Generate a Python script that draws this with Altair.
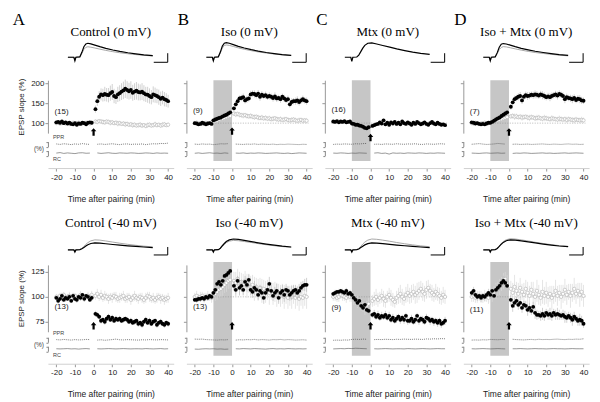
import altair as alt
import pandas as pd

# ---------------- data ----------------
T = list(range(-20, 0)) + list(range(1, 41))          # minutes (black / gray points)
TP = list(range(-20, 0, 2)) + list(range(2, 41, 2))    # minutes (PPR / RC traces)
DRUG_WINDOW = [-10, 0]

TITLES = ["Control (0 mV)", "Iso (0 mV)", "Mtx (0 mV)", "Iso + Mtx (0 mV)",
          "Control (-40 mV)", "Iso (-40 mV)", "Mtx (-40 mV)", "Iso + Mtx (-40 mV)"]
LETTERS = ["A", "B", "C", "D"]
N_LABELS = ["(15)", "(9)", "(16)", "(7)", "(13)", "(13)", "(9)", "(11)"]
N_Y = [127, 130, 132, 128, 90, 90, 89, 87]
ARROW_Y = [78, 80, 64, 78, 71, 71, 71, 71]

CTL0_BLACK = [102,103,101,104,100,102,99,101,98,97,100,96,99,98,101,100,97,101,102,101,
              135,155,166,172,170,173,171,170,175,178,168,165,172,175,179,182,186,183,180,183,
              176,179,181,178,177,179,175,172,171,168,165,172,170,168,165,161,164,160,158,155]
CTL0_BERR = [4,3,5,4,3,4,4,3,5,4,3,4,4,3,4,5,3,4,4,3,
             9,12,14,15,16,18,17,18,19,20,18,17,19,20,21,22,23,22,21,22,
             20,21,22,21,20,21,20,19,20,19,18,20,19,18,19,18,17,18,17,16]
CTL0_GRAY = [100,101,99,100,101,99,100,98,100,101,99,100,101,100,99,100,101,100,99,101,
             104,103,105,104,103,102,104,103,101,102,100,101,99,100,98,99,97,98,96,97,
             95,96,94,95,96,94,95,93,95,96,94,95,97,95,96,94,96,97,95,96]
CTL0_GERR = [3,4,3,3,4,3,4,3,3,4,3,4,3,3,4,3,4,3,3,4,
             5,6,5,6,7,6,5,6,7,6,5,6,7,6,5,6,7,6,5,6,
             7,6,5,6,7,6,5,6,7,6,5,6,7,6,5,6,7,6,5,6]
CTL0_PPR = [101,98,102,100,97,101,99,103,100,98, 99,101,98,100,102,99,97,100,101,98,100,99,101,97,100,102,101,104,103,106]
CTL0_RC = [100,103,98,101,99,97,101,102,99,100, 101,98,100,102,99,98,101,100,99,101,100,98,99,101,100,98,101,99,100,99]

ISO0_BLACK = [100,99,97,98,101,99,97,99,100,98,107,109,111,113,114,117,119,121,124,127,
              137,147,155,162,163,165,157,160,162,172,174,173,170,174,166,171,168,170,166,168,
              166,163,167,162,163,160,166,162,158,160,147,153,155,155,157,153,157,160,157,155]
ISO0_BERR = [3,4,3,4,3,4,3,4,3,4,4,5,4,5,4,5,5,4,5,5,
             6,7,8,7,8,9,8,9,8,9,8,9,8,9,10,9,8,9,8,9,
             8,9,10,9,8,9,8,9,8,9,8,9,8,9,10,9,8,9,8,9]
ISO0_GRAY = [100,101,99,100,98,100,101,99,100,102,103,105,106,108,110,111,113,115,117,118,
             124,122,123,121,120,119,120,118,117,118,116,115,116,114,113,114,112,113,111,112,
             110,111,112,110,109,110,108,109,110,108,107,108,109,107,106,107,108,106,107,106]
ISO0_GERR = [4,5,4,5,4,5,4,5,4,5,5,5,6,5,6,5,6,5,6,5,
             6,7,6,7,6,7,6,7,6,7,6,7,6,7,6,7,6,7,6,7,
             6,7,6,7,6,7,6,7,6,7,6,7,6,7,6,7,6,7,6,7]
ISO0_PPR = [100,98,101,99,100,97,99,102,101,103, 100,99,98,100,99,101,98,100,99,98,100,97,99,98,100,99,98,97,99,98]
ISO0_RC = [99,101,98,100,102,99,100,98,101,99, 100,99,101,98,100,99,101,100,98,99,100,101,99,98,100,97,99,101,100,99]

MTX0_BLACK = [104,103,105,102,104,103,105,102,103,104,99,98,96,96,94,93,91,88,87,90,
              93,95,97,98,102,99,107,97,101,96,102,99,103,98,101,97,104,100,98,102,
              99,96,101,98,103,100,97,99,102,98,96,100,103,99,97,101,98,96,97,95]
MTX0_BERR = [3,4,3,4,3,4,3,4,3,4,4,3,4,5,4,3,4,5,4,3,
             4,5,4,3,4,5,4,3,4,5,4,3,4,5,4,3,4,5,4,3,
             4,5,4,3,4,5,4,3,4,5,4,3,4,5,4,3,4,5,4,3]
MTX0_GRAY = []
MTX0_GERR = []
MTX0_PPR = [98,100,99,101,100,99,102,101,103,104, 99,100,98,101,100,99,102,100,99,101,100,102,99,98,101,100,99,101,102,100]
MTX0_RC = [100,99,101,100,98,100,99,101,100,99, 100,102,98,100,94,101,99,100,98,101,100,99,101,100,98,100,99,101,100,99]

IM0_BLACK = [102,101,99,100,98,97,98,97,99,101,101,103,106,109,112,114,118,121,124,127,
             141,152,160,163,166,168,157,166,170,168,169,171,170,172,171,169,172,170,168,165,
             167,165,168,170,172,169,173,171,168,160,165,163,162,160,163,158,161,160,157,156]
IM0_BERR = [3,4,5,4,3,4,5,4,3,4,4,5,4,5,5,6,5,6,5,6,
            7,8,9,8,9,10,9,8,9,10,9,8,9,10,9,8,9,10,9,8,
            9,10,9,8,9,10,9,8,9,10,9,8,9,10,9,8,9,10,9,8]
IM0_GRAY = [100,99,101,100,98,99,100,101,99,100,101,103,104,106,107,109,110,112,113,115,
            117,118,116,117,115,116,114,115,116,114,113,115,114,112,113,114,112,111,113,112,
            111,110,112,111,110,109,111,110,109,110,108,110,109,108,107,109,108,107,108,107]
IM0_GERR = [4,5,4,5,4,5,4,5,4,5,5,6,5,6,5,6,5,6,5,6,
            6,7,8,7,6,7,8,7,6,7,8,7,6,7,8,7,6,7,8,7,
            6,7,8,7,6,7,8,7,6,7,8,7,6,7,8,7,6,7,8,7]
IM0_PPR = [99,101,103,100,98,99,101,104,102,100, 99,100,98,99,100,98,99,100,101,99,98,100,99,98,100,101,99,100,98,99]
IM0_RC = [100,99,98,100,101,99,100,101,99,100, 98,100,99,101,100,98,99,100,101,99,100,98,99,100,101,99,100,101,100,99]

CTL1_BLACK = [99,96,98,101,97,99,98,100,96,101,98,97,100,99,102,98,101,100,97,99,
              83,82,80,76,77,75,78,80,77,79,76,78,77,78,76,77,78,77,75,76,
              74,75,76,73,74,72,75,77,74,76,73,75,76,72,74,75,73,72,74,73]
CTL1_BERR = [2,3,2,3,2,3,2,3,2,3,2,3,2,3,2,3,2,3,2,3,
             3,3,2,3,2,3,2,3,2,3,2,3,2,3,2,3,2,3,2,3,
             2,3,2,3,2,3,2,3,2,3,2,3,2,3,2,3,2,3,2,3]
CTL1_GRAY = [100,99,101,100,102,99,100,101,98,100,101,99,100,102,101,99,100,101,100,102,
             101,103,100,102,99,101,100,98,100,99,101,100,98,99,100,101,98,99,100,97,
             99,101,99,98,100,99,97,99,101,100,98,99,97,99,100,98,99,97,98,99]
CTL1_GERR = [3,4,3,4,3,4,3,4,3,4,3,4,3,4,3,4,3,4,3,4,
             4,5,4,5,4,5,4,5,4,5,4,5,4,5,4,5,4,5,4,5,
             4,5,4,5,4,5,4,5,4,5,4,5,4,5,4,5,4,5,4,5]
CTL1_PPR = [101,99,102,100,98,101,99,100,102,101, 98,100,97,99,101,104,100,99,101,100,99,98,100,99,101,100,99,101,100,99]
CTL1_RC = [100,99,100,101,99,100,98,100,101,99, 100,99,100,101,100,99,100,101,100,99,100,100,99,101,100,99,100,101,99,100]

ISO1_BLACK = [97,97,98,98,99,98,100,99,101,100,104,107,113,115,112,116,121,122,124,126,
              111,107,116,109,111,107,115,112,117,107,105,109,107,102,106,104,99,104,107,113,
              106,101,104,106,99,104,106,102,107,106,102,104,106,107,104,106,109,111,112,112]
ISO1_BERR = [2,3,2,3,2,3,2,3,2,3,3,4,3,4,3,4,3,4,3,4,
             5,6,5,7,6,5,6,7,6,5,6,7,6,5,6,7,6,5,6,7,
             6,5,6,7,6,5,6,7,6,5,6,7,6,5,6,7,6,5,6,7]
ISO1_GRAY = [100,101,99,100,101,99,100,101,100,99,101,103,105,107,108,110,112,114,116,117,
             116,114,118,113,115,112,116,111,113,110,112,108,110,107,109,106,108,105,107,104,
             106,103,105,102,104,101,103,100,102,99,101,100,102,99,101,98,100,99,101,100]
ISO1_GERR = [4,5,4,5,4,5,4,5,4,5,6,7,8,7,8,9,8,9,8,9,
             9,11,10,12,9,11,10,12,9,11,10,12,9,11,10,12,9,11,10,12,
             9,11,10,12,9,11,10,12,9,11,10,12,9,11,10,12,9,11,10,12]
ISO1_PPR = [104,103,104,101,100,99,98,100,99,101, 98,100,99,101,100,102,99,101,100,98,101,100,102,99,101,100,98,99,100,98]
ISO1_RC = [98,97,99,100,99,100,98,99,97,98, 100,99,101,100,99,101,100,99,98,100,101,99,100,99,101,100,99,100,99,100]

MTX1_BLACK = [103,104,105,105,106,105,104,106,103,104,102,99,97,94,96,91,89,92,87,86,
              82,83,80,82,79,81,80,82,79,81,77,79,76,78,80,77,79,77,81,76,
              76,78,75,77,81,76,78,77,75,79,78,76,77,75,76,74,76,73,74,76]
MTX1_BERR = [2,3,2,3,2,3,2,3,2,3,3,4,3,4,3,4,3,4,3,4,
             3,4,3,4,3,4,3,4,3,4,3,4,3,4,3,4,3,4,3,4,
             3,4,3,4,3,4,3,4,3,4,3,4,3,4,3,4,3,4,3,4]
MTX1_GRAY = [100,101,99,100,102,101,100,99,101,100,100,98,97,95,94,92,90,88,91,93,
             96,98,100,97,99,101,98,96,100,102,99,97,95,99,101,103,100,98,102,104,
             101,103,105,102,104,106,108,105,103,107,109,106,104,102,105,103,101,99,102,100]
MTX1_GERR = [4,5,4,5,4,5,4,5,4,5,5,6,5,6,5,6,5,6,5,6,
             6,7,8,7,6,7,8,7,6,7,8,7,6,7,8,9,8,7,8,9,
             8,9,8,9,10,9,8,9,8,9,8,7,8,7,8,7,8,7,8,7]
MTX1_PPR = [97,98,97,99,98,102,103,102,104,103, 101,102,101,103,102,101,103,102,104,103,102,104,103,102,105,104,106,105,107,106]
MTX1_RC = [99,100,101,100,102,101,103,102,101,100, 100,99,100,101,100,99,100,100,99,101,100,99,100,101,100,99,100,101,100,100]

IM1_BLACK = [104,106,102,100,101,99,101,100,102,104,102,106,101,107,109,111,114,116,114,111,
             97,91,94,96,92,94,89,92,91,87,89,86,90,84,82,82,81,83,81,84,
             82,83,81,84,82,83,82,81,82,80,79,81,79,77,80,78,76,77,76,73]
IM1_BERR = [3,4,3,4,3,4,3,4,3,4,4,5,4,5,4,5,4,5,4,5,
            5,6,5,4,5,6,5,4,5,6,5,4,5,6,5,4,5,6,5,4,
            5,6,5,4,5,6,5,4,5,6,5,4,5,6,5,4,5,6,5,4]
IM1_GRAY = [100,101,99,100,101,100,99,101,100,99,101,103,104,106,108,110,113,116,118,114,
            108,104,110,106,103,109,105,102,108,104,101,107,103,100,106,102,99,105,101,104,
            100,103,99,102,106,101,104,100,103,107,102,105,101,104,108,103,106,102,105,101]
IM1_GERR = [5,6,5,6,5,6,5,6,5,6,7,8,7,8,7,8,7,8,7,8,
            8,10,12,9,11,10,8,12,9,11,10,8,12,9,11,10,8,12,9,11,
            10,8,12,9,11,10,8,12,9,11,10,8,12,9,11,10,8,12,9,11]
IM1_PPR = [98,99,98,100,99,102,101,100,102,101, 103,101,100,99,101,102,100,103,101,102,101,103,104,102,101,103,102,104,103,106]
IM1_RC = [100,99,100,101,100,99,100,101,100,99, 100,100,101,100,99,100,101,100,100,99,100,101,100,100,99,100,101,100,100,100]

# example EPSP sweeps (ms, normalised amplitude)
TR_T = [0, 6, 7, 8, 12, 14, 16, 18, 20, 23, 27, 32, 38, 45, 52, 60, 68, 76, 85]
CTL0_TR_BLACK = [0,0,-0.25,0,0.03,0.35,0.75,0.95,1.0,0.96,0.87,0.76,0.64,0.52,0.42,0.32,0.24,0.17,0.11]
CTL0_TR_GRAY = [0,0,-0.25,0,0.03,0.27,0.56,0.71,0.75,0.72,0.66,0.58,0.49,0.40,0.32,0.25,0.19,0.14,0.09]
ISO0_TR_BLACK = [0,0,-0.25,0,0.03,0.37,0.8,1.0,1.05,1.0,0.9,0.78,0.66,0.54,0.44,0.34,0.26,0.19,0.13]
ISO0_TR_GRAY = [0,0,-0.25,0,0.03,0.3,0.66,0.84,0.88,0.85,0.77,0.67,0.57,0.47,0.38,0.3,0.23,0.17,0.12]
MTX0_TR_BLACK = [0,0,-0.3,0,0.02,0.15,0.4,0.65,0.85,1.0,1.03,0.95,0.84,0.72,0.6,0.48,0.37,0.28,0.2]
MTX0_TR_GRAY = []
IM0_TR_BLACK = [0,0,-0.25,0,0.03,0.33,0.72,0.93,0.98,0.95,0.87,0.76,0.64,0.53,0.43,0.34,0.26,0.19,0.13]
IM0_TR_GRAY = [0,0,-0.25,0,0.03,0.25,0.55,0.7,0.76,0.74,0.68,0.6,0.51,0.42,0.34,0.27,0.21,0.15,0.1]
CTL1_TR_BLACK = [0,0,-0.15,0,0.02,0.08,0.18,0.28,0.37,0.46,0.5,0.48,0.44,0.39,0.34,0.29,0.25,0.21,0.17]
CTL1_TR_GRAY = [0,0,-0.15,0,0.02,0.1,0.25,0.4,0.52,0.65,0.72,0.7,0.64,0.56,0.48,0.4,0.33,0.27,0.22]
ISO1_TR_BLACK = [0,0,-0.15,0,0.02,0.12,0.3,0.46,0.6,0.72,0.78,0.75,0.68,0.6,0.51,0.42,0.34,0.27,0.21]
ISO1_TR_GRAY = [0,0,-0.15,0,0.02,0.1,0.26,0.4,0.52,0.63,0.68,0.66,0.6,0.53,0.45,0.37,0.3,0.24,0.19]
MTX1_TR_BLACK = [0,0,-0.15,0,0.02,0.07,0.17,0.27,0.36,0.45,0.5,0.49,0.45,0.4,0.35,0.3,0.25,0.21,0.17]
MTX1_TR_GRAY = [0,0,-0.15,0,0.02,0.1,0.26,0.42,0.56,0.7,0.78,0.76,0.7,0.62,0.53,0.44,0.36,0.29,0.23]
IM1_TR_BLACK = [0,0,-0.15,0,0.02,0.1,0.25,0.41,0.54,0.66,0.72,0.7,0.65,0.58,0.5,0.42,0.35,0.28,0.23]
IM1_TR_GRAY = [0,0,-0.15,0,0.02,0.11,0.28,0.45,0.6,0.73,0.8,0.78,0.72,0.64,0.55,0.46,0.38,0.31,0.25]

SB_T = [86, 100, 100]
SB_V = [[-0.36, -0.36, 0.29], [-0.36, -0.36, 0.21]]

PANELS = [
    (CTL0_BLACK, CTL0_BERR, CTL0_GRAY, CTL0_GERR, CTL0_PPR, CTL0_RC, CTL0_TR_BLACK, CTL0_TR_GRAY),
    (ISO0_BLACK, ISO0_BERR, ISO0_GRAY, ISO0_GERR, ISO0_PPR, ISO0_RC, ISO0_TR_BLACK, ISO0_TR_GRAY),
    (MTX0_BLACK, MTX0_BERR, MTX0_GRAY, MTX0_GERR, MTX0_PPR, MTX0_RC, MTX0_TR_BLACK, MTX0_TR_GRAY),
    (IM0_BLACK, IM0_BERR, IM0_GRAY, IM0_GERR, IM0_PPR, IM0_RC, IM0_TR_BLACK, IM0_TR_GRAY),
    (CTL1_BLACK, CTL1_BERR, CTL1_GRAY, CTL1_GERR, CTL1_PPR, CTL1_RC, CTL1_TR_BLACK, CTL1_TR_GRAY),
    (ISO1_BLACK, ISO1_BERR, ISO1_GRAY, ISO1_GERR, ISO1_PPR, ISO1_RC, ISO1_TR_BLACK, ISO1_TR_GRAY),
    (MTX1_BLACK, MTX1_BERR, MTX1_GRAY, MTX1_GERR, MTX1_PPR, MTX1_RC, MTX1_TR_BLACK, MTX1_TR_GRAY),
    (IM1_BLACK, IM1_BERR, IM1_GRAY, IM1_GERR, IM1_PPR, IM1_RC, IM1_TR_BLACK, IM1_TR_GRAY),
]

# ---------------- layout / style ----------------
SANS = "Liberation Sans"
SERIF = "Liberation Serif"
W, H = 126, 128
X_DOMAIN = [-24.5, 43]
XTITLE = "Time after pairing (min)"
ARROW_PATH = "M0,-1L0.75,-0.15L0.3,-0.15L0.3,1L-0.3,1L-0.3,-0.15L-0.75,-0.15Z"
ROWS = [
    dict(ydom=[75, 207.5], yrange=[93, 40], yticks=[100, 150, 200], rect=[5, 207.5],
         tr_range=[17, 3], title_y=-8),
    dict(ydom=[65, 132], yrange=[96, 29], yticks=[75, 100, 125], rect=[41, 135],
         tr_range=[14, 0], title_y=-13),
]
LETTER_X = [-29, -3, -3, -3]


def errframe(vals, errs):
    return pd.DataFrame({"t": T[:len(vals)], "v": vals,
                         "lo": [a - b for a, b in zip(vals, errs)],
                         "hi": [a + b for a, b in zip(vals, errs)]})


def build(i):
    r, c = divmod(i, 4)
    cfg = ROWS[r]
    black, berr, gray, gerr, ppr, rc, trb, trg = PANELS[i]

    xs = alt.Scale(domain=X_DOMAIN, nice=False, zero=False)
    ys = alt.Scale(domain=cfg["ydom"], range=cfg["yrange"], nice=False, zero=False)
    xaxis = alt.Axis(values=[-20, -10, 0, 10, 20, 30, 40], tickSize=3, labelFontSize=8,
                     labelFont=SANS, labelColor="#222", labelPadding=2, domainColor="#d0d0d0",
                     tickColor="#999", grid=False, titleFontSize=8.5, titleFont=SANS,
                     titleFontWeight="normal", titleColor="#222", titlePadding=13,
                     labelExpr="'' + datum.value")
    ykw = dict(orient="left", values=cfg["yticks"], tickSize=3, domainColor="#999",
               tickColor="#999", grid=False, labels=(c == 0))
    if c == 0:
        ykw.update(labelFontSize=8, labelFont=SANS, labelColor="#222", labelPadding=1,
                   titleFontSize=8, titleFont=SANS, titleFontWeight="normal",
                   titleColor="#222", titlePadding=5)
    yaxis = alt.Axis(**ykw)
    ytitle = "EPSP slope (%)" if c == 0 else None

    def X(f):
        return alt.X(f, type="quantitative", scale=xs, axis=xaxis, title=XTITLE)

    def Y(f):
        return alt.Y(f, type="quantitative", scale=ys, axis=yaxis, title=ytitle)

    layers = []
    if c > 0:
        rect_df = pd.DataFrame({"x0": [DRUG_WINDOW[0]], "x1": [DRUG_WINDOW[1]],
                                "y0": [cfg["rect"][0]], "y1": [cfg["rect"][1]]})
        layers.append(alt.Chart(rect_df).mark_rect(color="#c6c6c6").encode(
            x=X("x0"), x2=alt.X2("x1"), y=Y("y0"), y2=alt.Y2("y1")))
        ref_df = pd.DataFrame({"x0": [-21], "x1": [41], "v": [100]})
        layers.append(alt.Chart(ref_df).mark_rule(color="#8a8a8a", strokeWidth=0.6,
                                                  strokeDash=[1, 1.5]).encode(
            x=X("x0"), x2=alt.X2("x1"), y=Y("v")))
    if gray:
        gdf = errframe(gray, gerr)
        layers.append(alt.Chart(gdf).mark_rule(color="#dadada", strokeWidth=0.7).encode(
            x=X("t"), y=Y("lo"), y2=alt.Y2("hi")))
        layers.append(alt.Chart(gdf).mark_point(filled=True, fill="white", stroke="#b0b0b0",
                                                strokeWidth=0.6, size=11, opacity=1).encode(
            x=X("t"), y=Y("v")))
    bdf = errframe(black, berr)
    layers.append(alt.Chart(bdf).mark_rule(color="#bdbdbd", strokeWidth=0.7).encode(
        x=X("t"), y=Y("lo"), y2=alt.Y2("hi")))
    layers.append(alt.Chart(bdf).mark_circle(color="black", size=15, opacity=1).encode(
        x=X("t"), y=Y("v")))
    adf = pd.DataFrame({"t": [0], "v": [ARROW_Y[i]]})
    layers.append(alt.Chart(adf).mark_point(shape=ARROW_PATH, filled=True, color="black",
                                            size=55, opacity=1).encode(x=X("t"), y=Y("v")))
    ndf = pd.DataFrame({"t": [-21], "v": [N_Y[i]], "label": [N_LABELS[i]]})
    layers.append(alt.Chart(ndf).mark_text(align="left", baseline="middle", fontSize=8,
                                           font=SANS, color="#222").encode(
        x=X("t"), y=Y("v"), text="label:N"))
    main = alt.layer(*layers)

    # PPR and RC traces
    px = alt.X("t:Q", scale=alt.Scale(domain=X_DOMAIN, nice=False, zero=False), axis=None)
    pdf = pd.DataFrame({"t": TP, "p": ppr, "seg": [0 if t < 0 else 1 for t in TP]})
    rdf = pd.DataFrame({"t": TP, "p": rc, "seg": [0 if t < 0 else 1 for t in TP]})
    bax = dict(orient="left", values=[85, 115], labels=False, tickSize=2,
               domainColor="#888", tickColor="#888", grid=False)
    ppr_l = alt.Chart(pdf).mark_line(color="#444", strokeWidth=0.7, strokeDash=[1, 1]).encode(
        x=px,
        y=alt.Y("p:Q", scale=alt.Scale(domain=[85, 115], range=[106.5, 101.5], nice=False,
                                       zero=False), axis=alt.Axis(**bax), title=None),
        detail="seg:N")
    rc_l = alt.Chart(rdf).mark_line(color="#555", strokeWidth=0.6).encode(
        x=px,
        y=alt.Y("p:Q", scale=alt.Scale(domain=[85, 115], range=[115.5, 110.5], nice=False,
                                       zero=False), axis=alt.Axis(**bax), title=None),
        detail="seg:N")

    # example sweeps and scale bar
    tx = alt.X("ms:Q", scale=alt.Scale(domain=[0, 100], range=[20, 120], nice=False,
                                       zero=False), axis=None)
    ty = alt.Y("mv:Q", scale=alt.Scale(domain=[0, 1], range=cfg["tr_range"], nice=False,
                                       zero=False), axis=None)
    outer = [main, ppr_l, rc_l]
    if trg:
        outer.append(alt.Chart(pd.DataFrame({"ms": TR_T, "mv": trg})).mark_line(
            color="#a8a8a8", strokeWidth=1).encode(x=tx, y=ty))
    outer.append(alt.Chart(pd.DataFrame({"ms": TR_T, "mv": trb})).mark_line(
        color="black", strokeWidth=1.2).encode(x=tx, y=ty))
    sb = pd.DataFrame({"ms": SB_T, "mv": SB_V[r], "k": [0, 1, 2]})
    outer.append(alt.Chart(sb).mark_line(color="black", strokeWidth=1).encode(
        x=tx, y=ty, order="k:Q"))

    # texts
    outer.append(alt.Chart(pd.DataFrame({"label": [TITLES[i]]})).mark_text(
        font=SERIF, fontSize=13, color="black", align="center", baseline="middle").encode(
        text="label:N", x=alt.value(W / 2), y=alt.value(cfg["title_y"])))
    if r == 0:
        outer.append(alt.Chart(pd.DataFrame({"label": [LETTERS[c]]})).mark_text(
            font=SERIF, fontSize=17, color="black", align="center", baseline="middle").encode(
            text="label:N", x=alt.value(LETTER_X[c]), y=alt.value(-20)))
    if c == 0:
        lab = pd.DataFrame({"label": ["PPR", "RC"], "yy": [97, 119]})
        outer.append(alt.Chart(lab).mark_text(font=SANS, fontSize=5.5, color="#444",
                                              align="left", baseline="middle").encode(
            text="label:N", x=alt.value(5),
            y=alt.Y("yy:Q", scale=alt.Scale(domain=[0, H], range=[0, H]), axis=None)))
        outer.append(alt.Chart(pd.DataFrame({"label": ["(%)"]})).mark_text(
            font=SANS, fontSize=6.5, color="#444", align="right", baseline="middle").encode(
            text="label:N", x=alt.value(-4), y=alt.value(109)))

    return alt.layer(*outer).resolve_scale(x="independent", y="independent").properties(
        width=W, height=H)


charts = [build(i) for i in range(8)]
chart = alt.concat(*charts, columns=4, spacing={"row": 68, "column": 12.7},
                   bounds="flush").configure_view(stroke=None).properties(
    padding={"left": 4, "top": 3, "right": 2, "bottom": 2})

chart.save("out.html", embed_options={"renderer": "svg", "actions": False})
